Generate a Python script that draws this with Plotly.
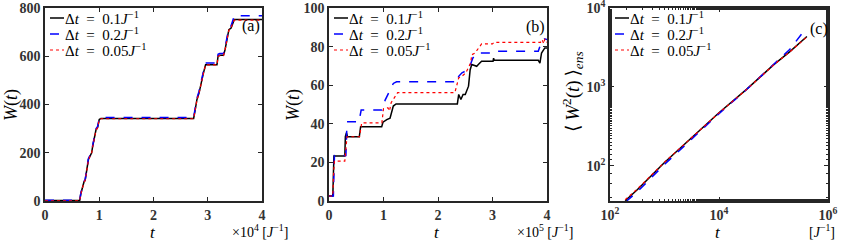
import plotly.graph_objects as go

# ---------------- Panel (a) data: t in units of 1e4 J^-1 ----------------
t_a = [0, 0.64, 0.66, 0.69, 0.72, 0.74, 0.77, 0.80, 0.83, 0.86, 0.88, 0.91, 0.94,
       0.97, 1.0, 1.03, 2.74, 2.77, 2.80, 2.84, 2.88, 2.92, 2.96, 3.17, 3.19, 3.22,
       3.29, 3.32, 3.36, 3.39, 3.43, 3.46, 3.49, 3.52, 4.0]
w_a_01 = [2, 2, 30, 62, 80, 85, 130, 172, 186, 200, 228, 260, 295, 305, 338, 342,
          342, 380, 420, 448, 497, 530, 565, 565, 600, 604, 604, 628, 676, 710, 717,
          740, 752, 752, 752]
w_a_02 = [3, 3, 32, 64, 82, 88, 133, 175, 190, 204, 232, 264, 299, 309, 342, 346,
          346, 386, 426, 455, 503, 537, 572, 572, 608, 611, 611, 636, 684, 718, 726,
          752, 768, 768, 768]
w_a_005 = [1, 1, 29, 61, 79, 84, 128, 170, 185, 199, 226, 258, 293, 304, 337, 341,
           341, 379, 418, 447, 495, 528, 564, 564, 599, 603, 603, 627, 674, 708, 716,
           739, 750, 750, 750]

# ---------------- Panel (b) data: t in units of 1e5 J^-1 ----------------
t_b_01 = [0, 0.07, 0.09, 0.29, 0.30, 0.32, 0.34, 0.556, 0.58, 0.967, 0.99, 1.06,
          1.12, 1.15, 1.18, 1.23, 2.355, 2.38, 2.42, 2.46, 2.50, 2.56, 2.59, 2.62,
          2.71, 2.74, 2.80, 3.01, 3.02, 3.03, 3.84, 3.87, 3.90, 3.96, 4.0]
w_b_01 = [2.6, 2.6, 23.3, 23.3, 33.3, 35.4, 33.3, 33.3, 38.5, 38.5, 40.8, 42.2,
          42.9, 45.7, 49.2, 50.3, 50.3, 55.2, 52.6, 55.2, 55.2, 59.5, 68.0, 70.7,
          69.8, 70.7, 72.4, 72.4, 74.0, 72.9, 72.9, 71.5, 76.7, 79.3, 79.3]

t_b_02 = [0, 0.08, 0.10, 0.31, 0.32, 0.33, 0.55, 0.59, 0.97, 1.0, 1.03, 1.09,
          1.13, 1.18, 1.24, 2.31, 2.34, 2.38, 2.44, 2.56, 2.64, 2.72, 2.97, 3.0,
          3.84, 3.88, 3.95, 4.0]
w_b_02 = [2.6, 2.6, 23.6, 23.6, 32.0, 41.0, 41.0, 47.1, 47.1, 48.9, 52.3, 55.8,
          57.5, 60.9, 61.8, 61.8, 61.0, 64.6, 66.4, 68.1, 74.1, 76.7, 76.7, 77.6,
          77.6, 81.0, 84.0, 83.7]

t_b_005 = [0, 0.07, 0.085, 0.10, 0.29, 0.31, 0.32, 0.33, 0.56, 0.58, 0.60, 0.97,
           0.98, 1.0, 1.08, 1.11, 1.14, 1.20, 1.26, 2.31, 2.35, 2.38, 2.44, 2.51,
           2.60, 2.62, 2.68, 2.77, 2.80, 3.0, 3.03, 3.88, 3.91, 3.94, 3.96, 4.0]
w_b_005 = [2.6, 2.6, 14.7, 20.7, 20.7, 26.7, 31.9, 33.3, 33.3, 36.7, 40.5, 40.5,
           44.0, 47.8, 48.3, 46.6, 50.9, 53.5, 56.2, 56.2, 60.3, 63.8, 64.6, 66.4,
           71.5, 75.8, 76.7, 80.5, 81.4, 81.4, 82.2, 82.2, 83.6, 81.5, 84.0, 82.2]

# ---------------- Panel (c) data: ensemble <W^2(t)> ----------------
t_c = [190, 320, 1000, 3200, 10000, 32000, 100000, 200000, 410000]
w2_c_01 = [36, 50, 110, 230, 470, 930, 1900, 2800, 4350]
w2_c_005 = [37, 51, 111, 231, 468, 925, 1890, 2790, 4300]
t_c_02 = [195, 320, 1000, 3200, 10000, 32000, 100000, 200000, 380000]
w2_c_02 = [35, 47, 104, 221, 458, 925, 1950, 3000, 5350]

labels = ["Δ<i>t</i>\u2002=\u20020.1<i>J</i><sup>−1</sup>",
          "Δ<i>t</i>\u2002=\u20020.2<i>J</i><sup>−1</sup>",
          "Δ<i>t</i>\u2002=\u20020.05<i>J</i><sup>−1</sup>"]

W, H = 844, 242
SERIF = "Liberation Serif, Times New Roman, DejaVu Serif, serif"

# pixel geometry of axes boxes
boxes = {"a": (45, 262), "b": (329, 547), "c": (610, 828)}
ytop, ybot = 8, 201


def px_x(p):
    return p / W


def px_y(p):
    return (H - p) / H


ydom = [px_y(ybot), px_y(ytop)]

fig = go.Figure()

styles = [dict(color="black", width=1.5, dash="solid"),
          dict(color="#0000ff", width=1.5, dash="dash"),
          dict(color="#ff0000", width=1.2, dash="dot")]

# panel a
for i, (xx, yy) in enumerate([(t_a, w_a_01), (t_a, w_a_02), (t_a, w_a_005)]):
    fig.add_trace(go.Scatter(x=xx, y=yy, mode="lines", line=styles[i], name=labels[i],
                             xaxis="x", yaxis="y", showlegend=False))
# panel b
for i, (xx, yy) in enumerate([(t_b_01, w_b_01), (t_b_02, w_b_02), (t_b_005, w_b_005)]):
    fig.add_trace(go.Scatter(x=xx, y=yy, mode="lines", line=styles[i], name=labels[i],
                             xaxis="x2", yaxis="y2", showlegend=False))
# panel c
for i, (xx, yy) in enumerate([(t_c, w2_c_01), (t_c_02, w2_c_02), (t_c, w2_c_005)]):
    fig.add_trace(go.Scatter(x=xx, y=yy, mode="lines", line=styles[i], name=labels[i],
                             xaxis="x3", yaxis="y3", showlegend=False))

tickfont = dict(family=SERIF, size=14, color="#333333", weight="bold")
axcommon = dict(showline=True, linecolor="#262626", linewidth=1.5, mirror="ticks",
                ticks="inside", ticklen=4, tickcolor="#262626", showgrid=False,
                zeroline=False, tickfont=tickfont, automargin=False,
                ticklabeloverflow="allow")

fig.update_layout(
    width=W, height=H, margin=dict(l=0, r=0, t=0, b=0, autoexpand=False),
    plot_bgcolor="white", paper_bgcolor="white",
    xaxis=dict(domain=[px_x(45), px_x(262)], range=[0, 4], tickvals=[0, 1, 2, 3, 4],
               anchor="y", **axcommon),
    yaxis=dict(domain=ydom, range=[0, 800], tickvals=[0, 200, 400, 600, 800],
               anchor="x", **axcommon),
    xaxis2=dict(domain=[px_x(329), px_x(547)], range=[0, 4], tickvals=[0, 1, 2, 3, 4],
                anchor="y2", **axcommon),
    yaxis2=dict(domain=ydom, range=[0, 100], tickvals=[0, 20, 40, 60, 80, 100],
                anchor="x2", **axcommon),
    xaxis3=dict(domain=[px_x(610), px_x(828)], type="log", range=[2, 6.0001],
                tickvals=[1e2, 1e4, 1e6],
                ticktext=["10<sup>2</sup>", "10<sup>4</sup>", "10<sup>6</sup>"],
                minor=dict(ticks="inside", ticklen=2, tickcolor="#262626"),
                anchor="y3", **axcommon),
    yaxis3=dict(domain=ydom, type="log", range=[1.553, 4.0001],
                tickvals=[1e2, 1e3, 1e4],
                ticktext=["10<sup>2</sup>", "10<sup>3</sup>", "10<sup>4</sup>"],
                minor=dict(ticks="inside", ticklen=2, tickcolor="#262626"),
                anchor="x3", **axcommon),
    showlegend=False,
)

annots = []
shapes = []


def ann(text, x, y, size=16, angle=0, xanchor="center"):
    annots.append(dict(text=text, x=px_x(x), y=px_y(y), xref="paper", yref="paper",
                       showarrow=False, textangle=angle, xanchor=xanchor,
                       yanchor="middle", borderpad=0,
                       font=dict(family=SERIF, size=size, color="black")))


# manual legends (short line samples like the reference)
legend_rows = [18, 34, 50]
for key, (left, right) in boxes.items():
    for i, yrow in enumerate(legend_rows):
        shapes.append(dict(type="line", xref="paper", yref="paper",
                           x0=px_x(left + 5), x1=px_x(left + 19),
                           y0=px_y(yrow), y1=px_y(yrow),
                           line=dict(color=styles[i]["color"], width=styles[i]["width"],
                                     dash=styles[i]["dash"])))
        ann(labels[i], left + 19, yrow, size=15, xanchor="left")

# y titles
ann("<i>W</i>(<i>t</i>)", 11, 105, size=18, angle=-90)
ann("<i>W</i>(<i>t</i>)", 293, 105, size=18, angle=-90)
ann("⟨\u2009<i>W</i><sup>2</sup>(<i>t</i>)\u2009⟩<sub><i>ens</i></sub>", 573, 92,
    size=19, angle=-90)
# x titles
ann("<i>t</i>", 153, 232, size=17)
ann("<i>t</i>", 437, 232, size=17)
ann("<i>t</i>", 718, 232, size=17)
# units
ann("×10<sup>4</sup> [<i>J</i><sup>−1</sup>]", 231, 231, size=14, xanchor="left")
ann("×10<sup>5</sup> [<i>J</i><sup>−1</sup>]", 516, 231, size=14, xanchor="left")
ann("[<i>J</i><sup>−1</sup>]", 808, 231, size=14, xanchor="left")
# panel labels
ann("(a)", 251, 26, size=16)
ann("(b)", 535, 27, size=16)
ann("(c)", 819, 29, size=16)

fig.update_layout(annotations=annots, shapes=shapes)

fig.write_html("out.html", config={"displayModeBar": False},
               post_script="document.body.style.margin='0px';"
                           "document.body.style.overflow='hidden';")
